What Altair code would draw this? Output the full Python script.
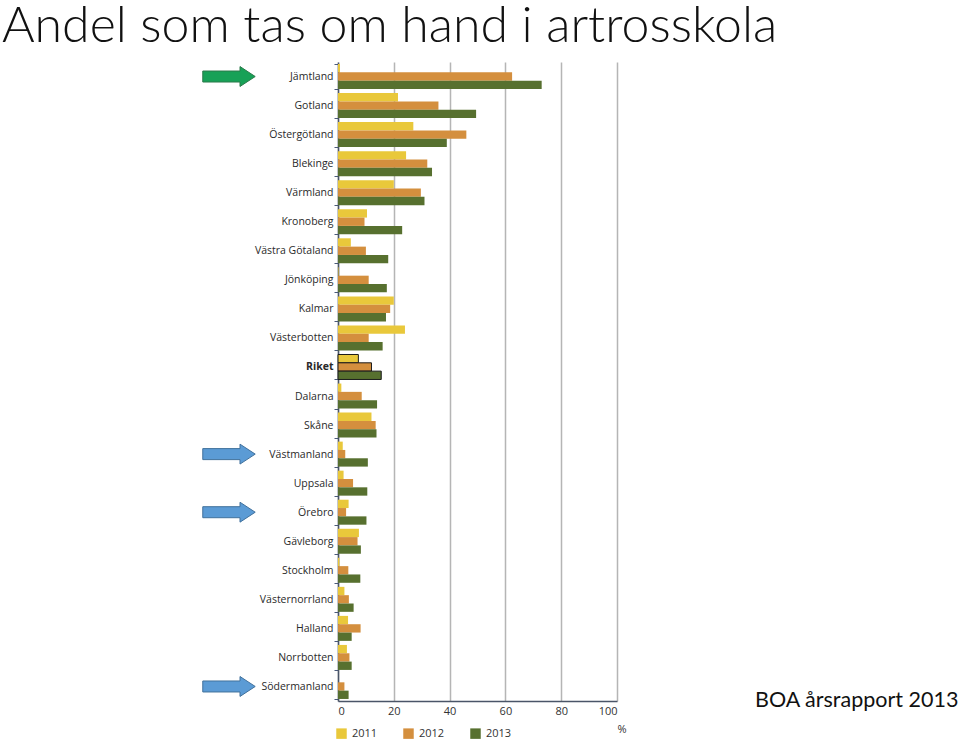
import altair as alt
import pandas as pd

regions = ["Jämtland", "Gotland", "Östergötland", "Blekinge", "Värmland", "Kronoberg",
           "Västra Götaland", "Jönköping", "Kalmar", "Västerbotten", "Riket", "Dalarna",
           "Skåne", "Västmanland", "Uppsala", "Örebro", "Gävleborg", "Stockholm",
           "Västernorrland", "Halland", "Norrbotten", "Södermanland"]
years = ["2011", "2012", "2013"]
v2011 = [0.7, 21.5, 27.0, 24.4, 20.0, 10.4, 4.6, 0.2, 20.0, 24.0, 7.3, 1.2,
         12.0, 1.7, 2.0, 3.8, 7.5, 0.5, 2.3, 3.6, 3.2, 0.0]
v2012 = [62.4, 36.0, 46.0, 32.0, 29.7, 9.5, 10.0, 11.0, 18.7, 11.0, 12.0, 8.5,
         13.5, 2.6, 5.4, 2.9, 7.0, 3.7, 3.9, 8.1, 4.1, 2.3]
v2013 = [73.0, 49.5, 39.0, 33.7, 31.0, 23.0, 18.0, 17.5, 17.2, 16.0, 15.5, 14.0,
         13.8, 10.7, 10.5, 10.2, 8.2, 8.0, 5.6, 4.9, 4.9, 3.8]
colors = ["#E9C83B", "#D48F3E", "#57702F"]

arrow_regions = ["Jämtland", "Västmanland", "Örebro", "Södermanland"]
arrow_fill = ["#17A157", "#5B9BD5", "#5B9BD5", "#5B9BD5"]
arrow_stroke = ["#2C7A4B", "#41719C", "#41719C", "#41719C"]

title_text = "Andel som tas om hand i artrosskola"
note_text = "BOA årsrapport 2013"

rows = []
for i, r in enumerate(regions):
    for y, vals in zip(years, [v2011, v2012, v2013]):
        rows.append({"region": r, "year": y, "value": vals[i]})
df = pd.DataFrame(rows)
arrows = pd.DataFrame({"region": arrow_regions, "fill": arrow_fill, "stroke": arrow_stroke})

yscale = alt.Scale(domain=regions, paddingInner=0.14, paddingOuter=0.07)

bars = alt.Chart(df).mark_bar(stroke="#1a1a1a").encode(
    x=alt.X("value:Q", scale=alt.Scale(domain=[0, 100], nice=False),
            axis=alt.Axis(values=[0, 20, 40, 60, 80, 100], title="%", titleAnchor="end",
                          titleX=288, titleY=22, titleFontSize=11, titleFontWeight="normal",
                          titleFont="Open Sans", titleColor="#333333",
                          grid=True, gridColor="#b5b5b5", gridWidth=1.5,
                          ticks=False, labelPadding=4, labelFontSize=11,
                          labelFont="Open Sans", labelColor="#333333",
                          domainColor="#4a5568", domainWidth=1.5)),
    y=alt.Y("region:N", sort=regions, scale=yscale,
            axis=alt.Axis(title=None, tickBand="extent", tickSize=4, tickColor="#4a5a7a",
                          domainColor="#4a5568", domainWidth=1.5, labelPadding=1,
                          labelFontSize=10.5, labelFont="Open Sans", labelColor="#2a2a2a",
                          labelFontWeight=alt.ExprRef(expr="datum.value == 'Riket' ? 'bold' : 'normal'"))),
    yOffset=alt.YOffset("year:N", sort=years),
    color=alt.Color("year:N", sort=years, scale=alt.Scale(domain=years, range=colors),
                    legend=alt.Legend(title=None, orient="none", legendX=-2, legendY=666,
                                      direction="horizontal", symbolType="square",
                                      symbolSize=110, symbolStrokeWidth=0, labelFontSize=11,
                                      labelFont="Open Sans", labelColor="#333333",
                                      columnPadding=25, labelOffset=5)),
    strokeWidth=alt.condition(alt.datum.region == "Riket", alt.value(1), alt.value(0)),
)

arrow_shape = "M-1,-0.21 L0.42,-0.21 L0.42,-0.38 L1,0 L0.42,0.38 L0.42,0.21 L-1,0.21 Z"
arrow_layer = alt.Chart(arrows).mark_point(shape=arrow_shape, filled=True, size=2750,
                                           strokeWidth=1, opacity=1).encode(
    x=alt.value(-109),
    y=alt.Y("region:N", sort=regions, scale=yscale),
    fill=alt.Fill("fill:N", scale=None),
    stroke=alt.Stroke("stroke:N", scale=None),
)

note = alt.Chart(pd.DataFrame({"t": [note_text]})).mark_text(
    align="left", baseline="alphabetic", font="Lato", fontSize=21.5, color="#111111"
).encode(x=alt.value(417), y=alt.value(645), text="t:N")

title = alt.Chart(pd.DataFrame({"t": [title_text]})).mark_text(
    align="left", baseline="top", font="Lato", fontWeight=300, fontSize=50,
    color="#111111"
).encode(x=alt.value(-336), y=alt.value(-60), text="t:N")

chart = alt.layer(bars, arrow_layer, note, title).properties(
    width=279, height=639,
    autosize=alt.AutoSizeParams(type="none"),
    padding={"left": 338, "top": 62, "right": 343, "bottom": 39},
).configure_view(stroke=None)

chart.save("out.html", embed_options={"renderer": "svg", "actions": False})
